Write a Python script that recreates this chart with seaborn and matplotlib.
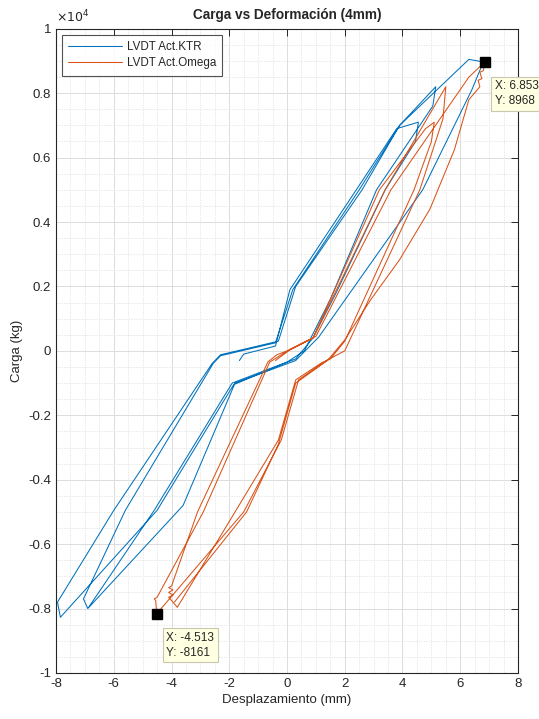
"""Carga vs Deformación (4mm) - hysteresis of two LVDT readings."""

import matplotlib.pyplot as plt
import matplotlib.ticker as mticker
import pandas as pd
import seaborn as sns

BLUE = "#0072BD"
ORANGE = "#D95319"

# LVDT Act.KTR  (displacement mm, load kg)
ktr_x = [-1.65, -1.5, -0.4, 0.1, 2.4, 3.8, 4.55, 4.45, 3.4, 1.7, 0.9, 0.3, -0.3,
         -1.9, -4.6, -6.9, -7.05, -5.6, -2.55, -2.3, -0.4, 0.2, 2.5, 3.9, 5.15,
         5.05, 3.1, 1.5, 0.6, 0.0, -1.85, -4.5, -7.85, -7.95, -6.0, -2.6, -2.3,
         -0.3, 0.3, 2.6, 3.9, 6.3, 6.8, 6.4, 4.7, 1.1, 0.3, -1.8, -3.6, -6.85]
ktr_y = [-300, -100, 150, 1900, 5000, 6900, 7100, 6500, 5000, 1800, 400, -250, -450,
         -1000, -4950, -8000, -7700, -4950, -380, -150, 250, 1900, 5000, 7000, 8200,
         7600, 5000, 1600, 0, -350, -1050, -4950, -8270, -7800, -4950, -400, -120,
         300, 2000, 5000, 7000, 9050, 8970, 8100, 5000, 430, -300, -1000, -4800, -7950]

# LVDT Act.Omega
omega_x = [-0.4, 0.1, 0.9, 3.2, 4.8, 5.1, 5.0, 4.4, 2.0, 1.5, 1.2, 0.3, -0.3, -1.8,
           -3.8, -4.0, -4.1, -3.95, -4.1, -3.95, -4.1, -4.0, -3.1, -0.66, -0.35, 0.1,
           0.9, 3.4, 5.5, 5.4, 4.6, 2.0, 1.4, 0.4, -0.2, -1.5, -4.513, -4.55, -4.6,
           -4.5, -2.9, -0.6, 0.1, 1.0, 3.6, 6.3, 6.853, 6.8, 6.68, 6.75, 6.62, 6.68,
           6.3, 5.8, 4.95, 3.9, 2.9, 2.0, 1.4, 0.3, -0.3, -1.4, -3.9]
omega_y = [-300, 30, 400, 5000, 6900, 7100, 6500, 5000, 300, -250, -370, -900, -2770,
           -5000, -7960, -7750, -7650, -7580, -7500, -7420, -7350, -7300, -5000, -340,
           -120, 30, 400, 5000, 8200, 7200, 5000, 0, -280, -900, -2770, -5000, -8161,
           -7750, -7700, -7650, -5000, -350, 50, 450, 5000, 8500, 8968, 8700, 8650,
           8450, 8400, 8200, 7800, 6250, 4400, 2830, 1590, 340, -300, -1000, -2900,
           -5000, -7800]

tips = [(6.853, 8968), (-4.513, -8161)]

df = pd.concat([
    pd.DataFrame({"x": ktr_x, "y": ktr_y, "serie": "LVDT Act.KTR"}),
    pd.DataFrame({"x": omega_x, "y": omega_y, "serie": "LVDT Act.Omega"}),
], ignore_index=True)

sns.set_theme(style="white")
plt.rcParams["font.family"] = ["Liberation Sans", "DejaVu Sans"]
plt.rcParams["axes.unicode_minus"] = False

fig = plt.figure(figsize=(5.39, 7.19), dpi=100)
ax = fig.add_axes([0.104, 0.064, 0.857, 0.896])

sns.lineplot(data=df, x="x", y="y", hue="serie", sort=False, estimator=None,
             palette=[BLUE, ORANGE], linewidth=0.75, ax=ax)

ax.set_xlim(-8, 8)
ax.set_ylim(-10000, 10000)
ax.xaxis.set_major_locator(mticker.MultipleLocator(2))
ax.xaxis.set_minor_locator(mticker.MultipleLocator(0.5))
ax.yaxis.set_major_locator(mticker.MultipleLocator(2000))
ax.yaxis.set_minor_locator(mticker.MultipleLocator(500))
ax.yaxis.set_major_formatter(mticker.FuncFormatter(lambda v, p: f"{v / 1e4:g}"))
ax.xaxis.set_major_formatter(mticker.FuncFormatter(lambda v, p: f"{v:g}"))

ax.grid(which="major", color="#dcdcdc", linewidth=0.7, linestyle="-")
ax.grid(which="minor", color="#e2e2e2", linewidth=0.6, linestyle=(0, (1.5, 1.5)))
ax.set_axisbelow(True)
ax.tick_params(which="major", direction="in", length=5, width=0.7, colors="#262626",
               top=True, right=True, labelsize=9.5, labelcolor="#262626")
ax.tick_params(which="minor", length=0)
for s in ax.spines.values():
    s.set_color("#262626")
    s.set_linewidth(0.8)

ax.set_xlabel("Desplazamiento (mm)", fontsize=9.5, color="#262626", labelpad=3)
ax.set_ylabel("Carga (kg)", fontsize=9.5, color="#262626")
ax.set_title("Carga vs Deformación (4mm)", fontsize=9.8, fontweight="bold", pad=7)
ax.text(0.0, 1.005, r"$\times10^{4}$", transform=ax.transAxes, fontsize=9,
        color="#262626", ha="left", va="bottom")

leg = ax.legend(loc="upper left", fontsize=8.4, frameon=True, fancybox=False,
                borderaxespad=0.5, handlelength=4.6, handletextpad=0.4,
                borderpad=0.55, labelspacing=0.35)
leg.get_frame().set_edgecolor("#262626")
leg.get_frame().set_linewidth(0.8)
leg.set_title(None)

# data tips
for tx, ty in tips:
    ax.plot(tx, ty, marker="s", color="black", markersize=7, zorder=5)
    ax.annotate(f"X: {tx:.3f}\nY: {ty:.0f}", (tx, ty), xytext=(7, -13),
                textcoords="offset points", ha="left", va="top", fontsize=8.5,
                color="#262626", linespacing=1.35, annotation_clip=False,
                bbox=dict(boxstyle="square,pad=0.3", fc="#ffffe1", ec="#c8c8b0", lw=0.8),
                zorder=6)

fig.savefig("out.png", dpi=100, facecolor="white")
